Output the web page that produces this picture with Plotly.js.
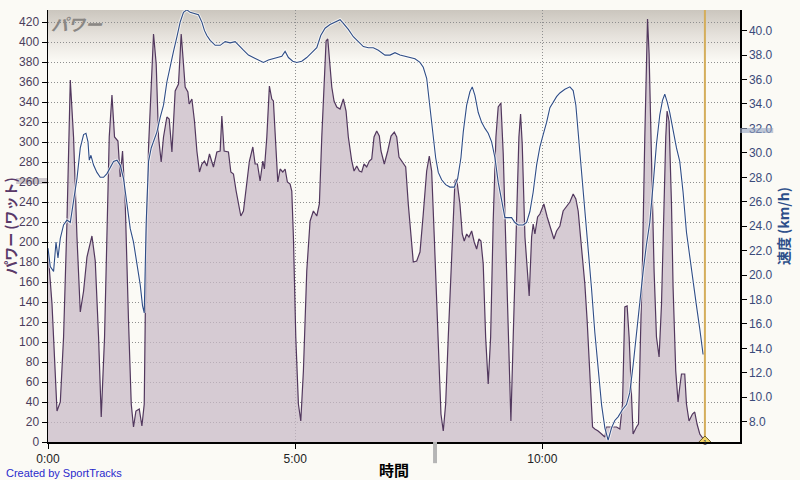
<!DOCTYPE html>
<html>
<head>
<meta charset="utf-8">
<script src="https://cdn.plot.ly/plotly-3.0.1.min.js"></script>
<style>html,body{margin:0;padding:0;background:#fbfaf5;}#chart{width:800px;height:480px;}</style>
</head>
<body>
<div id="chart"></div>
<script>
// time in minutes
const powerTime = [0.00,0.081,0.182,0.249,0.315,0.384,0.451,0.517,0.586,0.653,0.720,0.788,0.889,0.956,1.023,1.077,1.144,1.193,1.239,1.294,1.346,1.415,1.461,1.508,1.563,1.629,1.684,1.730,1.779,1.846,1.900,1.947,1.987,2.034,2.088,2.135,2.189,2.236,2.290,2.337,2.405,2.452,2.507,2.573,2.640,2.695,2.741,2.775,2.830,2.856,2.911,2.963,3.012,3.064,3.113,3.166,3.214,3.267,3.347,3.416,3.483,3.517,3.564,3.651,3.699,3.752,3.806,3.853,3.901,3.954,4.008,4.075,4.144,4.190,4.237,4.291,4.346,4.378,4.427,4.479,4.528,4.560,4.615,4.649,4.696,4.750,4.797,4.843,4.898,4.932,4.965,5.013,5.066,5.114,5.167,5.235,5.302,5.369,5.438,5.490,5.539,5.585,5.626,5.660,5.707,5.741,5.787,5.842,5.909,5.975,6.030,6.076,6.145,6.192,6.246,6.299,6.347,6.394,6.448,6.501,6.549,6.596,6.650,6.703,6.737,6.804,6.873,6.940,7.006,7.055,7.101,7.156,7.237,7.289,7.344,7.390,7.459,7.526,7.592,7.661,7.714,7.762,7.815,7.883,7.950,7.997,8.045,8.098,8.167,8.233,8.268,8.334,8.381,8.421,8.470,8.516,8.571,8.623,8.672,8.718,8.759,8.805,8.854,8.906,8.955,9.007,9.062,9.108,9.163,9.210,9.258,9.311,9.365,9.412,9.481,9.527,9.561,9.594,9.649,9.703,9.735,9.784,9.816,9.851,9.905,9.952,10.032,10.099,10.168,10.235,10.289,10.356,10.422,10.491,10.558,10.625,10.679,10.726,10.774,10.815,10.861,10.908,10.962,11.017,11.063,11.130,11.199,11.266,11.300,11.367,11.433,11.502,11.569,11.623,11.670,11.716,11.757,11.805,11.837,11.906,11.946,11.987,12.027,12.074,12.108,12.129,12.161,12.209,12.262,12.310,12.363,12.412,12.458,12.498,12.525,12.565,12.614,12.646,12.700,12.747,12.781,12.816,12.882,12.917,12.969,13.038,13.084,13.131,13.186,13.253,13.287];
const powerWatts = [191,138,31,40,105,221,362,305,205,130,151,185,206,181,105,25,105,205,305,347,305,301,265,291,238,121,38,15,31,33,16,38,205,295,355,408,378,305,280,305,325,323,290,351,358,408,378,355,350,338,343,321,291,270,278,281,276,288,275,290,291,326,291,290,270,268,251,238,226,231,253,281,295,278,278,261,281,273,305,356,343,341,291,260,273,270,273,260,258,251,205,105,38,21,71,171,221,231,226,238,305,365,401,403,378,355,341,335,333,343,331,305,281,271,276,271,270,278,275,281,283,305,311,306,291,278,291,306,310,305,285,281,275,238,205,180,181,190,228,271,286,271,205,105,28,11,38,105,188,261,263,238,208,201,208,205,211,200,193,203,201,178,105,58,105,221,305,335,339,288,205,105,21,105,221,305,328,298,205,171,146,205,218,208,225,228,238,225,215,203,211,216,231,235,240,248,243,231,205,175,158,121,71,15,13,11,8,5,15,15,15,15,13,38,135,136,105,38,8,15,18,105,181,305,405,423,388,271,171,105,85,138,238,305,331,321,238,155,71,40,55,68,68,38,21,28,30,18,8,3,1];

const speedTime = [0.00,0.046,0.113,0.162,0.202,0.249,0.315,0.384,0.451,0.517,0.586,0.653,0.720,0.768,0.809,0.835,0.869,0.922,0.990,1.057,1.124,1.193,1.259,1.326,1.395,1.461,1.528,1.597,1.664,1.730,1.799,1.866,1.912,1.947,1.987,2.034,2.088,2.155,2.203,2.270,2.337,2.405,2.472,2.539,2.608,2.674,2.741,2.810,2.876,2.943,3.044,3.113,3.166,3.214,3.281,3.382,3.483,3.584,3.685,3.786,3.853,3.954,4.055,4.156,4.257,4.358,4.459,4.560,4.661,4.730,4.797,4.864,4.952,5.033,5.134,5.235,5.337,5.438,5.518,5.605,5.706,5.808,5.909,5.975,6.076,6.177,6.279,6.380,6.481,6.582,6.683,6.717,6.818,6.919,7.020,7.121,7.222,7.323,7.424,7.525,7.592,7.661,7.708,7.748,7.795,7.843,7.896,7.964,8.045,8.132,8.219,8.288,8.354,8.401,8.470,8.536,8.583,8.637,8.704,8.773,8.840,8.906,8.975,9.042,9.108,9.177,9.244,9.311,9.379,9.446,9.513,9.614,9.683,9.749,9.816,9.885,9.952,10.018,10.087,10.154,10.220,10.289,10.356,10.457,10.558,10.625,10.679,10.726,10.794,10.861,10.928,10.996,11.063,11.130,11.199,11.266,11.332,11.401,11.467,11.534,11.623,11.704,11.771,11.837,11.906,11.973,12.040,12.108,12.175,12.242,12.310,12.377,12.432,12.478,12.525,12.579,12.646,12.715,12.781,12.848,12.917,13.018,13.119,13.186,13.253];
const speedKmh = [22.2,20.7,20.3,22.7,21.4,23.0,24.1,24.5,24.3,26.0,27.9,30.4,31.5,31.6,30.9,29.4,29.8,29.0,28.4,28.0,28.0,28.3,28.8,29.3,29.4,29.0,27.9,25.7,23.8,22.7,21.1,19.2,17.5,16.9,24.3,29.3,30.4,31.2,31.7,32.9,33.9,35.8,37.2,38.3,39.5,40.7,41.5,41.7,41.5,41.4,41.3,40.7,40.0,39.6,39.2,38.8,38.8,39.1,39.0,39.1,38.8,38.4,38.0,37.8,37.6,37.4,37.6,37.7,37.8,37.9,38.3,37.8,37.5,37.4,37.5,37.8,38.2,38.6,39.6,40.2,40.5,40.7,40.9,40.6,40.1,39.5,39.1,38.7,38.6,38.6,38.4,38.3,38.0,38.0,38.2,38.0,37.9,37.8,37.7,37.4,37.0,36.1,34.5,33.1,31.2,29.6,28.4,27.8,27.4,27.2,27.2,27.9,29.6,31.7,33.9,35.0,35.4,34.7,33.3,32.5,32.0,31.6,30.9,29.6,27.6,26.0,24.7,24.7,24.7,24.3,24.1,24.1,24.3,25.2,26.8,29.0,30.5,31.5,32.5,33.7,34.2,34.6,34.9,35.2,35.4,35.1,33.9,31.7,29.0,25.7,22.5,18.9,15.3,12.1,9.4,7.5,6.5,7.5,8.1,8.4,9.0,9.4,10.4,12.6,15.3,18.1,20.3,22.5,24.3,27.4,30.7,33.1,34.3,34.8,34.2,33.3,31.7,30.4,29.3,26.8,23.5,20.3,17.5,15.6,13.5];

const xTickVals = [0, 5, 10];
const xTickText = ["0:00", "5:00", "10:00"];
const markerTime = 13.29;
const markerLabel = "1";

const gradSvg = "<svg xmlns='http://www.w3.org/2000/svg' width='10' height='100' preserveAspectRatio='none'><defs><linearGradient id='g' x1='0' y1='0' x2='0' y2='1'><stop offset='0' stop-color='#cbc6be'/><stop offset='0.5' stop-color='#e6e2dc'/><stop offset='1' stop-color='#fbfaf5'/></linearGradient></defs><rect width='10' height='100' fill='url(#g)'/></svg>";
const gradUri = "data:image/svg+xml;charset=utf-8," + encodeURIComponent(gradSvg);

const baseFont = "Liberation Sans, Arial, sans-serif";
const cjkFont = "Noto Sans CJK JP, sans-serif";

const traces = [
  {
    x: powerTime, y: powerWatts, type: 'scatter', mode: 'lines',
    fill: 'tozeroy', fillcolor: 'rgba(200,184,198,0.72)',
    line: {color: '#52385e', width: 1.2}, yaxis: 'y', hoverinfo: 'skip'
  },
  {
    x: speedTime, y: speedKmh, type: 'scatter', mode: 'lines',
    line: {color: 'rgba(255,255,255,0.7)', width: 3}, yaxis: 'y2', hoverinfo: 'skip'
  },
  {
    x: speedTime, y: speedKmh, type: 'scatter', mode: 'lines',
    line: {color: '#2f4d86', width: 1.1}, yaxis: 'y2', hoverinfo: 'skip'
  }
];

const layout = {
  width: 800, height: 480,
  margin: {l: 48, r: 60, t: 10, b: 38, pad: 0},
  paper_bgcolor: '#fbfaf5',
  plot_bgcolor: 'rgba(0,0,0,0)',
  showlegend: false,
  font: {family: baseFont, size: 12, color: '#333'},
  xaxis: {
    range: [0, 14.0], tickvals: xTickVals, ticktext: xTickText,
    showline: true, linecolor: '#000', linewidth: 1.5,
    ticks: 'outside', ticklen: 5, tickcolor: '#000',
    showgrid: true, gridcolor: '#8f8f8f', griddash: '1px,2px', gridwidth: 1,
    zeroline: false, tickfont: {size: 12, color: '#222', family: baseFont},
    title: {text: '時間', font: {family: cjkFont, size: 15, color: '#000', weight: 'bold'}, standoff: 2}
  },
  yaxis: {
    range: [0, 432], tick0: 0, dtick: 20,
    showline: true, linecolor: '#000', linewidth: 1.5,
    ticks: 'outside', ticklen: 5, tickcolor: '#000',
    showgrid: true, gridcolor: '#8f8f8f', griddash: '1px,2px', gridwidth: 1,
    zeroline: false, tickfont: {size: 12, color: '#4a3d5c', family: baseFont},
    title: {text: 'パワー (ワット)', font: {family: cjkFont, size: 14, color: '#5a3968', weight: 'bold'}, standoff: 4}
  },
  yaxis2: {
    overlaying: 'y', side: 'right',
    range: [6.34, 41.69], tick0: 8, dtick: 2, tickformat: '.1f',
    showline: true, linecolor: '#000', linewidth: 1.5,
    ticks: 'outside', ticklen: 5, tickcolor: '#000',
    showgrid: false, zeroline: false,
    tickfont: {size: 12, color: '#3a4a7a', family: baseFont},
    title: {text: '速度 (km/h)', font: {family: cjkFont, size: 14, color: '#2d4f8a', weight: 'bold'}, standoff: 6}
  },
  images: [{
    source: gradUri, xref: 'paper', yref: 'paper', x: 0, y: 1,
    sizex: 1, sizey: 0.12, sizing: 'stretch', xanchor: 'left', yanchor: 'top', layer: 'below'
  }],
  shapes: [
    {type: 'rect', xref: 'paper', yref: 'y', x0: -0.046, x1: 0, y0: 258, y1: 264, fillcolor: 'rgba(170,160,170,0.55)', line: {width: 0}, layer: 'below'},
    {type: 'rect', xref: 'paper', yref: 'y2', x0: 1, x1: 1.048, y0: 31.63, y1: 32.04, fillcolor: 'rgba(150,165,195,0.6)', line: {width: 0}},
    {type: 'rect', xref: 'x', yref: 'paper', x0: 7.79, x1: 7.87, y0: -0.049, y1: 0, fillcolor: '#b5b5b5', line: {width: 0}},
    {type: 'line', xref: 'x', yref: 'paper', x0: markerTime, x1: markerTime, y0: 0, y1: 1, line: {color: '#d4ae5c', width: 2}},
    {type: 'path', xref: 'x', yref: 'y', xsizemode: 'pixel', ysizemode: 'pixel', xanchor: markerTime, yanchor: 0,
     path: 'M0,-6 L6,0 L0,6 L-6,0 Z', fillcolor: '#f2d56a', line: {color: '#6b5a20', width: 1}}
  ],
  annotations: [
    {text: 'パワー', xref: 'paper', yref: 'paper', x: 0.002, y: 1.003, xanchor: 'left', yanchor: 'top', showarrow: false,
     font: {family: cjkFont, size: 17, color: '#8a8784', style: 'italic', weight: 'bold'}},
    {text: markerLabel, xref: 'x', yref: 'y', x: markerTime, y: 0, showarrow: false, xanchor: 'center', yanchor: 'middle',
     font: {family: baseFont, size: 7, color: '#333'}},
    {text: 'Created by SportTracks', xref: 'paper', yref: 'paper', x: -0.063, y: -0.071, xanchor: 'left', yanchor: 'middle',
     showarrow: false, font: {family: baseFont, size: 11, color: '#2a2acc'}}
  ]
};

Plotly.newPlot('chart', traces, layout, {displayModeBar: false, staticPlot: true});
</script>
</body>
</html>
